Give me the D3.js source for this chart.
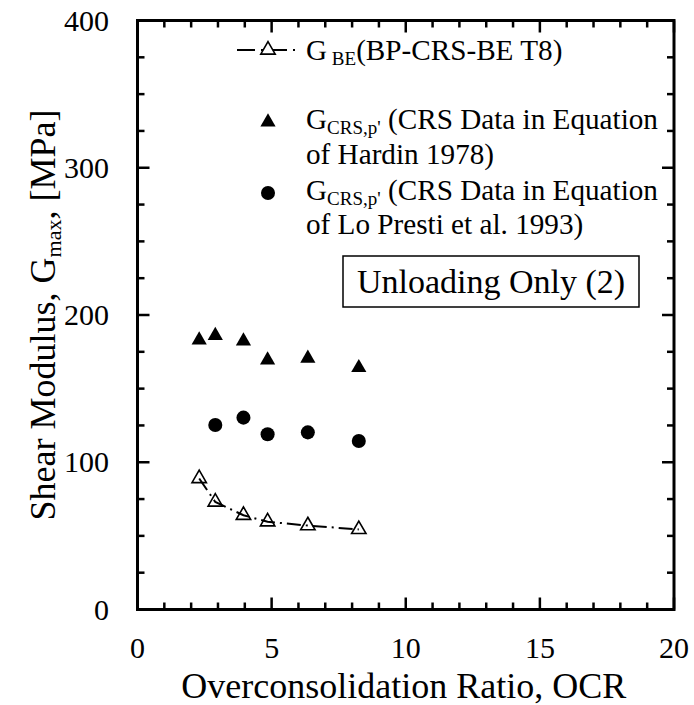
<!DOCTYPE html>
<html><head><meta charset="utf-8">
<script src="https://cdn.jsdelivr.net/npm/d3@7"></script>
<style>body{margin:0;background:#fff}svg{display:block}</style>
</head><body>
<script>
// Data
const ocrBE = [2.3, 2.9, 3.95, 4.85, 6.35, 8.25];
const gBE = [89, 73, 64, 59.6, 57, 54.4];
const ocrHardin = [2.3, 2.9, 3.95, 4.85, 6.35, 8.25];
const gHardin = [183, 186, 182.3, 169.4, 170.6, 164.2];
const ocrLoPresti = [2.9, 3.95, 4.85, 6.35, 8.25];
const gLoPresti = [125.3, 130.3, 119, 120.3, 114.4];
const xTicks = [0, 5, 10, 15, 20];
const yTicks = [0, 100, 200, 300, 400];

const W = 694, H = 705;
const L = 137.5, R = 674, T = 20.5, B = 609.5;
const font = "Liberation Serif, Times New Roman, serif";

const svg = d3.select("body").append("svg").attr("width", W).attr("height", H)
  .attr("font-family", font);

const x = d3.scaleLinear().domain([0, 20]).range([L, R]);
const y = d3.scaleLinear().domain([0, 400]).range([B, T]);

// ticks (inside) on all four sides
const minorX = d3.range(0, 21, 1), minorY = d3.range(0, 401, 25);
const tk = svg.append("g").attr("stroke", "#000").attr("stroke-width", 2.5);
minorX.forEach(v => {
  const len = v % 5 === 0 ? 12 : 7;
  tk.append("line").attr("x1", x(v)).attr("x2", x(v)).attr("y1", B).attr("y2", B - len);
  tk.append("line").attr("x1", x(v)).attr("x2", x(v)).attr("y1", T).attr("y2", T + len);
});
minorY.forEach(v => {
  const len = v % 100 === 0 ? 12 : 7;
  tk.append("line").attr("y1", y(v)).attr("y2", y(v)).attr("x1", L).attr("x2", L + len);
  tk.append("line").attr("y1", y(v)).attr("y2", y(v)).attr("x1", R).attr("x2", R - len);
});

// frame
svg.append("rect").attr("x", L).attr("y", T).attr("width", R - L).attr("height", B - T)
  .attr("fill", "none").attr("stroke", "#000").attr("stroke-width", 3);

// tick labels
svg.append("g").selectAll("text").data(xTicks).join("text")
  .attr("x", d => x(d)).attr("y", 658).attr("text-anchor", "middle")
  .attr("font-size", 30).text(d => d);
svg.append("g").selectAll("text").data(yTicks).join("text")
  .attr("x", 109).attr("y", d => y(d) + 10).attr("text-anchor", "end")
  .attr("font-size", 30).text(d => d);

// axis titles
svg.append("text").attr("x", (L + R) / 2 - 2).attr("y", 698).attr("text-anchor", "middle")
  .attr("font-size", 36).text("Overconsolidation Ratio, OCR");
const yt = svg.append("text").attr("transform", `translate(55,${(T + B) / 2}) rotate(-90)`)
  .attr("text-anchor", "middle").attr("font-size", 36);
yt.append("tspan").text("Shear Modulus, G");
yt.append("tspan").attr("font-size", 22).attr("dy", 6).text("max");
yt.append("tspan").attr("dy", -6).text(", [MPa]");

// symbols
const triUp = d3.symbol().type(d3.symbolTriangle).size(100);
const circ = d3.symbol().type(d3.symbolCircle).size(155);
const triOpen = d3.symbol().type(d3.symbolTriangle).size(90);

// BE line
const beData = ocrBE.map((o, i) => [o, gBE[i]]);
svg.append("path").datum(beData)
  .attr("d", d3.line().x(d => x(d[0])).y(d => y(d[1])))
  .attr("fill", "none").attr("stroke", "#000").attr("stroke-width", 2)
  .attr("stroke-dasharray", "14,5,2,5");
svg.append("g").selectAll("path").data(beData).join("path")
  .attr("transform", d => `translate(${x(d[0])},${y(d[1])})`)
  .attr("d", triOpen).attr("fill", "none").attr("stroke", "#000").attr("stroke-width", 1.6);

// Hardin
svg.append("g").selectAll("path").data(ocrHardin.map((o, i) => [o, gHardin[i]])).join("path")
  .attr("transform", d => `translate(${x(d[0])},${y(d[1])})`)
  .attr("d", triUp).attr("fill", "#000");
// Lo Presti
svg.append("g").selectAll("path").data(ocrLoPresti.map((o, i) => [o, gLoPresti[i]])).join("path")
  .attr("transform", d => `translate(${x(d[0])},${y(d[1])})`)
  .attr("d", circ).attr("fill", "#000");

// legend
const lg = svg.append("g").attr("font-size", 29.2);
lg.append("line").attr("x1", 237).attr("x2", 300).attr("y1", 50).attr("y2", 50)
  .attr("stroke", "#000").attr("stroke-width", 2).attr("stroke-dasharray", "18,6,2,6");
lg.append("path").attr("transform", "translate(268,50)").attr("d", triOpen)
  .attr("fill", "#fff").attr("stroke", "#000").attr("stroke-width", 1.6);
const l1 = lg.append("text").attr("x", 306).attr("y", 60);
l1.append("tspan").text("G");
l1.append("tspan").attr("font-size", 19).attr("dy", 5).text(" BE");
l1.append("tspan").attr("dy", -5).text("(BP-CRS-BE T8)");

lg.append("path").attr("transform", "translate(268,122)").attr("d", triUp).attr("fill", "#000");
const l2 = lg.append("text").attr("x", 306).attr("y", 129);
l2.append("tspan").text("G");
l2.append("tspan").attr("font-size", 19).attr("dy", 5).text("CRS,p'");
l2.append("tspan").attr("dy", -5).text(" (CRS Data in Equation");
lg.append("text").attr("x", 306).attr("y", 164).text("of Hardin 1978)");

lg.append("path").attr("transform", "translate(268,193)").attr("d", circ).attr("fill", "#000");
const l3 = lg.append("text").attr("x", 306).attr("y", 200);
l3.append("tspan").text("G");
l3.append("tspan").attr("font-size", 19).attr("dy", 5).text("CRS,p'");
l3.append("tspan").attr("dy", -5).text(" (CRS Data in Equation");
lg.append("text").attr("x", 306).attr("y", 234).text("of Lo Presti et al. 1993)");

// annotation box
svg.append("rect").attr("x", 343).attr("y", 256).attr("width", 296).attr("height", 51)
  .attr("fill", "#fff").attr("stroke", "#000").attr("stroke-width", 1.5);
svg.append("text").attr("x", 491).attr("y", 293).attr("text-anchor", "middle")
  .attr("font-size", 34).text("Unloading Only (2)");
</script>
</body></html>
